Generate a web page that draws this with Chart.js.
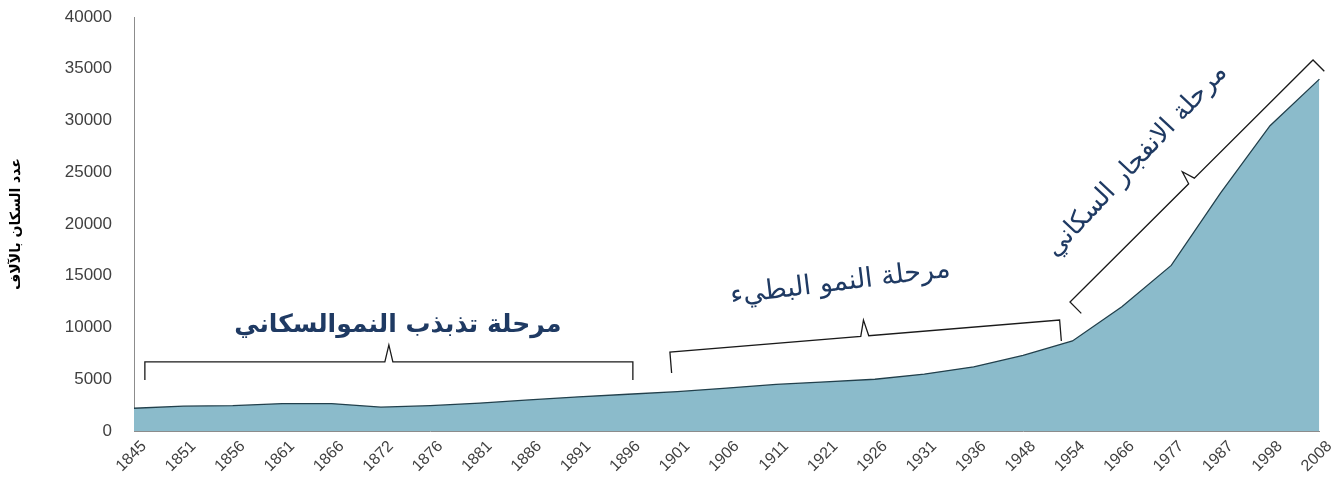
<!DOCTYPE html>
<html>
<head>
<meta charset="utf-8">
<script src="https://cdn.jsdelivr.net/npm/chart.js@4"></script>
<style>
	html, body { margin: 0; padding: 0; background: #fff; }
	#wrap { width: 1333px; height: 500px; }
</style>
</head>
<body>
<div id="wrap"><canvas id="chart1"></canvas></div>
<script>
// data
var years = ["1845", "1851", "1856", "1861", "1866", "1872", "1876", "1881", "1886", "1891", "1896",
	"1901", "1906", "1911", "1921", "1926", "1931", "1936", "1948", "1954",
	"1966", "1977", "1987", "1998", "2008"];
var population = [2200, 2400, 2450, 2650, 2650, 2300, 2450, 2700, 3000, 3300, 3550,
	3800, 4150, 4500, 4750, 5000, 5500, 6200, 7300, 8700,
	12000, 16000, 23000, 29500, 34000];
var yTicks = [0, 5000, 10000, 15000, 20000, 25000, 30000, 35000, 40000];
var yTitle = "عدد السكان بالآلاف";

// phase labels, placed in data units (category index, value)
var phases = [
	{ text: "مرحلة تذبذب النموالسكاني", at: [5.34, 10240], angle: 0, bold: true, size: 25,
		from: [0.22, 6670], to: [10.1, 6670], hook: 18, tip: 17 },
	{ text: "مرحلة النمو البطيء", at: [14.3, 14300], angle: -7, bold: false, size: 27,
		from: [10.85, 7630], to: [18.74, 10720], hook: 21, tip: 16 },
	{ text: "مرحلة الانفجار السكاني", at: [20.3, 26100], angle: -47, bold: false, size: 26,
		from: [18.95, 12460], to: [23.87, 35850], hook: 16, tip: 13 }
];

var phasePlugin = {
	id: "phases",
	afterDatasetsDraw: function (chart) {
		var c = chart.ctx;
		var xs = chart.scales.x, ys = chart.scales.y;
		function px(p) { return [xs.getPixelForValue(p[0]), ys.getPixelForValue(p[1])]; }
		c.save();
		phases.forEach(function (ph) {
			var a = px(ph.from), b = px(ph.to);
			var dx = b[0] - a[0], dy = b[1] - a[1];
			var len = Math.sqrt(dx * dx + dy * dy);
			var nx = -dy / len, ny = dx / len;   // points down/right
			var mx = (a[0] + b[0]) / 2, my = (a[1] + b[1]) / 2;
			var ux = dx / len, uy = dy / len;
			c.strokeStyle = "#1a1a1a";
			c.lineWidth = 1.3;
			c.beginPath();
			c.moveTo(a[0] + nx * ph.hook, a[1] + ny * ph.hook);
			c.lineTo(a[0], a[1]);
			c.lineTo(mx - ux * 4, my - uy * 4);
			c.lineTo(mx - nx * ph.tip, my - ny * ph.tip);
			c.lineTo(mx + ux * 4, my + uy * 4);
			c.lineTo(b[0], b[1]);
			c.lineTo(b[0] + nx * ph.hook, b[1] + ny * ph.hook);
			c.stroke();

			var t = px(ph.at);
			c.save();
			c.translate(t[0], t[1]);
			c.rotate(ph.angle * Math.PI / 180);
			c.fillStyle = "#1f3a63";
			c.font = (ph.bold ? "bold " : "") + ph.size + "px 'DejaVu Sans', sans-serif";
			c.textAlign = "center";
			c.textBaseline = "middle";
			c.direction = "rtl";
			c.fillText(ph.text, 0, 0);
			c.restore();
		});
		c.restore();
	}
};

var ctx = document.getElementById("chart1").getContext("2d");
var chartdata = {
	type: "line",
	data: {
		labels: years,
		datasets: [
			{
				data: population,
				fill: "origin",
				backgroundColor: "rgb(139, 187, 203)",
				borderColor: "#22404c",
				borderWidth: 1.3,
				pointRadius: 0,
				tension: 0
			}
		]
	},
	options: {
		responsive: true,
		maintainAspectRatio: false,
		animation: false,
		layout: { padding: { top: 17, right: 13, left: 8, bottom: 0 } },
		plugins: { legend: { display: false }, tooltip: { enabled: false } },
		scales: {
			x: {
				offset: false,
				// invisible grid, only used so the tick length pushes the labels down
				grid: { display: true, drawOnChartArea: false, color: "rgba(0,0,0,0)", tickLength: 6 },
				border: { display: true, color: "#8c8c8c" },
				ticks: {
					autoSkip: false,
					maxRotation: 45,
					minRotation: 45,
					padding: 0,
					labelOffset: 10,
					color: "#404040",
					font: { family: "'Liberation Sans', sans-serif", size: 16 }
				},
				afterFit: function (s) { s.height = 69; }
			},
			y: {
				min: 0,
				max: 40000,
				afterBuildTicks: function (s) { s.ticks = yTicks.map(function (v) { return { value: v }; }); },
				grid: { display: true, drawOnChartArea: false, color: "rgba(0,0,0,0)", tickLength: 22 },
				border: { display: true, color: "#8c8c8c" },
				title: {
					display: true,
					text: yTitle,
					color: "#000",
					font: { family: "'DejaVu Sans', sans-serif", size: 14, weight: "bold" },
					padding: { top: 0, bottom: 6 }
				},
				ticks: {
					padding: 0,
					color: "#404040",
					font: { family: "'Liberation Sans', sans-serif", size: 17 },
					callback: function (v) { return String(v); }
				},
				afterFit: function (s) { s.width = 126; }
			}
		}
	},
	plugins: [phasePlugin]
};

new Chart(ctx, chartdata);
</script>
</body>
</html>
